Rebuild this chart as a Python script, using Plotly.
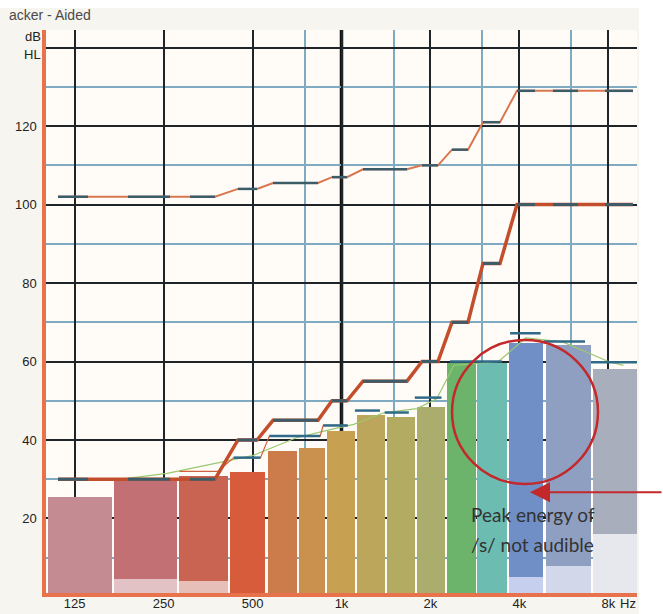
import numpy as np
import plotly.graph_objects as go

# ---------------- data ----------------
# speech-band bars (Hz edges, level dB HL, lighter floor level)
band_lo_hz = [101.6, 169.9, 281.9, 419.5, 564, 718, 893, 1128, 1426, 1801, 2275, 2875, 3688, 4920, 7097]
band_hi_hz = [167.3, 277.5, 413, 551, 707, 879, 1111, 1404, 1773, 2240, 2852, 3632, 4808, 6987, 10000]
band_level = [25.5, 30.3, 30.8, 31.8, 37.2, 38.0, 42.3, 46.4, 45.9, 48.4, 59.6, 59.6, 64.7, 64.2, 58.1]
band_floor = [0, 4.5, 4.0, 0, 0, 0, 0, 0, 0, 0, 0, 0, 5.0, 8.0, 16.0]

# threshold / UCL markers (dash extents in Hz)
mark_lo_hz = [109.8, 189.5, 307.2, 446.3, 586.5, 928.7, 1182, 1873, 2365, 3012, 3926, 5195, 7794]
mark_hi_hz = [138.7, 262.8, 373.2, 517.6, 832.8, 1043.8, 1666, 2121, 2680, 3439, 4516, 6315, 9694]
threshold_db = [30, 30, 30, 40, 45, 50, 55, 60, 70, 85, 100, 100, 100]
ucl_db = [102, 102, 102, 104, 105.5, 107, 109, 110, 114, 121, 129, 129, 129]

# target dashes
target_lo_hz = [283, 432, 570, 867, 1110, 1400, 1770, 2330, 3720, 4830, 6990]
target_hi_hz = [381, 532, 847, 1050, 1350, 1690, 2180, 3490, 4720, 6670, 10000]
target_db = [32, 35.5, 41, 43.7, 47.5, 47, 50.8, 60, 67.2, 65.1, 59.8]

# thin green curve
green_hz = [180, 257, 500, 700, 900, 1100, 1400, 1800, 2100, 2400, 3400, 4200, 5600, 8000, 9000]
green_db = [30, 31.5, 36, 40.5, 42.5, 44, 47, 48, 50.5, 59, 60, 66, 65, 60, 59]

x_tick_hz = [125, 250, 500, 1000, 2000, 4000, 8000]
x_tick_text = ["125", "250", "500", "1k", "2k", "4k", "8k"]
x_minor_hz = [750, 1500, 3000, 6000]
y_tick_vals = [20, 40, 60, 80, 100, 120, 140]
y_tick_text = ["20", "40", "60", "80", "100", "120", ""]
y_minor_vals = [10, 30, 50, 70, 90, 110, 130]

bar_colors = ["#c48c92", "#c27073", "#ca6452", "#d65c3c", "#cc7c4a", "#c9904e", "#c8a052",
               "#bba65c", "#b4ab62", "#aaad6c", "#6cb46c", "#6cbcb2", "#6f8fc6", "#8f9fc2", "#a9aebd"]
floor_colors = ["#d8aab0", "#e2c2c4", "#e6c0b8", "#e8a890", "#e0a888", "#e0b890", "#e0c490",
                "#d8cca0", "#d4cea4", "#d0d0aa", "#a8d8a8", "#a8dcd6", "#c6d0ee", "#d2d8ea", "#e6e8ee"]

lg = np.log10

# ---------------- figure ----------------
fig = go.Figure()

lo = lg(band_lo_hz)
hi = lg(band_hi_hz)
centers = (lo + hi) / 2
widths = hi - lo
lev = np.array(band_level)
flo = np.array(band_floor)

fig.add_trace(go.Bar(x=centers, y=flo, base=0, width=widths,
                     marker=dict(color=floor_colors, line=dict(width=0)),
                     hoverinfo="skip", showlegend=False))
fig.add_trace(go.Bar(x=centers, y=lev - flo, base=flo, width=widths,
                     marker=dict(color=bar_colors, line=dict(width=0)),
                     hoverinfo="skip", showlegend=False))


def pts(lo_hz, hi_hz, vals):
    xs, ys = [], []
    for a, b, v in zip(lo_hz, hi_hz, vals):
        xs += [lg(a), lg(b)]
        ys += [v, v]
    return xs, ys


def segs(lo_hz, hi_hz, vals):
    xs, ys = [], []
    for a, b, v in zip(lo_hz, hi_hz, vals):
        xs += [lg(a), lg(b), None]
        ys += [v, v, None]
    return xs, ys


# thin green curve
fig.add_trace(go.Scatter(x=lg(green_hz), y=green_db, mode="lines",
                         line=dict(color="#9cc870", width=1.2), showlegend=False, hoverinfo="skip"))

# target: thin red connector + dashes
tx, ty = pts(target_lo_hz, target_hi_hz, target_db)
fig.add_trace(go.Scatter(x=tx[:8], y=ty[:8], mode="lines",
                         line=dict(color="#d0603e", width=1.2), showlegend=False, hoverinfo="skip"))
sx, sy = segs(target_lo_hz[1:], target_hi_hz[1:], target_db[1:])
fig.add_trace(go.Scatter(x=sx, y=sy, mode="lines",
                         line=dict(color="#2f6a88", width=2.5), showlegend=False, hoverinfo="skip"))

# UCL line
ux, uy = pts(mark_lo_hz, mark_hi_hz, ucl_db)
fig.add_trace(go.Scatter(x=ux, y=uy, mode="lines",
                         line=dict(color="#d8764e", width=2), showlegend=False, hoverinfo="skip"))
sx, sy = segs(mark_lo_hz, mark_hi_hz, ucl_db)
fig.add_trace(go.Scatter(x=sx, y=sy, mode="lines",
                         line=dict(color="#3d5c6a", width=2.5), showlegend=False, hoverinfo="skip"))

# threshold line
thx, thy = pts(mark_lo_hz, mark_hi_hz, threshold_db)
fig.add_trace(go.Scatter(x=thx, y=thy, mode="lines",
                         line=dict(color="#c24e2c", width=3.5), showlegend=False, hoverinfo="skip"))
sx, sy = segs(mark_lo_hz, mark_hi_hz, threshold_db)
fig.add_trace(go.Scatter(x=sx, y=sy, mode="lines",
                         line=dict(color="#3d5c6a", width=3), showlegend=False, hoverinfo="skip"))

BLACK = "#1e2428"
BLUE = "#7eaac2"
ORANGE = "#e8724c"
FONT = "Liberation Sans, Arial, sans-serif"

fig.update_layout(
    width=663, height=614,
    margin=dict(l=46, r=26, t=30, b=21, autoexpand=False),
    paper_bgcolor="#f6f5ef",
    plot_bgcolor="#fffcf8",
    barmode="overlay",
    bargap=0,
    showlegend=False,
    font=dict(family=FONT, size=13, color="#222"),
    xaxis=dict(
        type="linear", range=[2, 4], automargin=False,
        tickmode="array", tickvals=lg(x_tick_hz), ticktext=x_tick_text,
        showgrid=True, gridcolor=BLACK, gridwidth=2,
        zeroline=False, showline=True, linecolor=ORANGE, linewidth=3.5,
        ticks="", ticklabelstandoff=-4,
        minor=dict(tickmode="array", tickvals=lg(x_minor_hz), showgrid=True,
                   gridcolor=BLUE, gridwidth=1.5, ticks=""),
        fixedrange=True,
    ),
    yaxis=dict(
        range=[1, 144.5], automargin=False,
        tickmode="array", tickvals=y_tick_vals, ticktext=y_tick_text,
        showgrid=True, gridcolor=BLACK, gridwidth=2,
        zeroline=False, showline=True, linecolor=ORANGE, linewidth=3.5,
        ticks="", ticklabelstandoff=3,
        minor=dict(tickmode="array", tickvals=y_minor_vals, showgrid=True,
                   gridcolor=BLUE, gridwidth=1.5, ticks=""),
        fixedrange=True,
    ),
    shapes=[
        # white strips outside the chart image
        dict(type="rect", xref="paper", yref="paper", x0=1.0034, x1=1.06, y0=-0.05, y1=1.07,
             fillcolor="white", line=dict(width=0), layer="below"),
        dict(type="rect", xref="paper", yref="paper", x0=-0.09, x1=1.06, y0=1.039, y1=1.07,
             fillcolor="white", line=dict(width=0), layer="below"),
        # thicker 1k gridline
        dict(type="line", xref="x", yref="paper", x0=lg(x_tick_hz[3]), x1=lg(x_tick_hz[3]),
             y0=0, y1=1, line=dict(color="#111", width=3.5), layer="between"),
        # red circle
        dict(type="circle", xref="x", yref="y", x0=3.374, x1=3.868, y0=28.8, y1=65.5,
             line=dict(color="#c3282a", width=2.5), layer="above"),
    ],
    annotations=[
        dict(text="acker - Aided", xref="paper", yref="paper", x=-0.066, y=1.0275,
             xanchor="left", yanchor="middle", showarrow=False,
             font=dict(size=14, color="#4a4a4a", family=FONT)),
        dict(text="dB", xref="paper", yref="paper", x=-0.005, y=0.9876,
             xanchor="right", yanchor="middle", showarrow=False,
             font=dict(size=13, color="#222", family=FONT)),
        dict(text="HL", xref="paper", yref="paper", x=-0.005, y=0.9556,
             xanchor="right", yanchor="middle", showarrow=False,
             font=dict(size=13, color="#222", family=FONT)),
        dict(text="Hz", xref="x", yref="paper", x=3.9695, y=-0.0195,
             xanchor="center", yanchor="middle", showarrow=False,
             font=dict(size=13, color="#222", family=FONT)),
        # arrow
        dict(text="", xref="x", yref="y", x=3.638, y=26.7, ax=145, ay=0,
             showarrow=True, arrowhead=2, arrowsize=2, arrowwidth=2,
             arrowcolor="#c3282a", standoff=0),
        dict(text="Peak energy of", xref="x", yref="y", x=3.430, y=20.9,
             xanchor="left", yanchor="middle", showarrow=False,
             font=dict(size=19, color="#333", family="Lato, sans-serif")),
        dict(text="/s/ not audible", xref="x", yref="y", x=3.430, y=13.4,
             xanchor="left", yanchor="middle", showarrow=False,
             font=dict(size=19, color="#333", family="Lato, sans-serif")),
    ],
)

fig.write_html("out.html", config={"displayModeBar": False},
               post_script="document.body.style.margin='0';document.body.style.padding='0';")
